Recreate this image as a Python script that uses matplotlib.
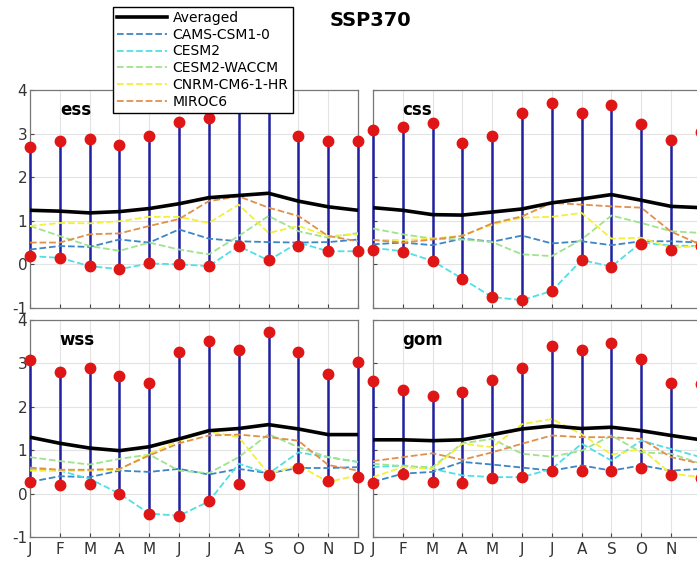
import numpy as np
import matplotlib.pyplot as plt

plt.rcParams['axes.unicode_minus'] = False

months = ['J', 'F', 'M', 'A', 'M', 'J', 'J', 'A', 'S', 'O', 'N', 'D']
regions = ['ess', 'css', 'wss', 'gom']
models = ['CAMS-CSM1-0', 'CESM2', 'CESM2-WACCM', 'CNRM-CM6-1-HR', 'MIROC6']
model_colors = ['#3d86c6', '#4fe0e6', '#9ee38e', '#f2f03a', '#e0904a']

# averaged (ensemble) curve per region
avg_ess = [1.24, 1.22, 1.18, 1.21, 1.28, 1.39, 1.53, 1.58, 1.63, 1.45, 1.32, 1.24]
avg_css = [1.30, 1.24, 1.14, 1.13, 1.20, 1.27, 1.41, 1.50, 1.60, 1.47, 1.33, 1.30]
avg_wss = [1.30, 1.16, 1.05, 0.99, 1.08, 1.26, 1.45, 1.50, 1.59, 1.49, 1.36, 1.36]
avg_gom = [1.24, 1.24, 1.22, 1.24, 1.36, 1.49, 1.56, 1.50, 1.53, 1.45, 1.34, 1.24]

# range (max / min) per region
max_ess = [2.69, 2.84, 2.88, 2.74, 2.95, 3.26, 3.36, 3.85, 3.95, 2.95, 2.84, 2.84]
min_ess = [0.19, 0.15, -0.04, -0.11, 0.02, 0.00, -0.04, 0.42, 0.09, 0.42, 0.30, 0.30]
max_css = [3.09, 3.15, 3.24, 2.78, 2.95, 3.48, 3.70, 3.48, 3.66, 3.22, 2.86, 3.03]
min_css = [0.33, 0.28, 0.08, -0.33, -0.75, -0.82, -0.61, 0.10, -0.05, 0.47, 0.34, 0.42]
max_wss = [3.09, 2.80, 2.90, 2.72, 2.56, 3.26, 3.51, 3.31, 3.72, 3.27, 2.75, 3.03]
min_wss = [0.27, 0.19, 0.21, 0.00, -0.46, -0.51, -0.18, 0.23, 0.44, 0.59, 0.28, 0.38]
max_gom = [2.60, 2.38, 2.24, 2.35, 2.62, 2.90, 3.40, 3.30, 3.46, 3.11, 2.56, 2.52]
min_gom = [0.25, 0.46, 0.27, 0.24, 0.37, 0.38, 0.53, 0.53, 0.52, 0.59, 0.42, 0.37]

# individual models, order as in `models`
ess_models = [
    [0.34, 0.42, 0.40, 0.57, 0.50, 0.80, 0.59, 0.53, 0.51, 0.50, 0.51, 0.57],
    [0.19, 0.15, -0.04, -0.11, 0.02, 0.00, -0.04, 0.42, 0.09, 0.50, 0.30, 0.30],
    [0.88, 0.65, 0.42, 0.31, 0.50, 0.34, 0.23, 0.65, 1.11, 0.76, 0.61, 0.72],
    [0.88, 0.95, 0.94, 0.99, 1.09, 1.09, 0.95, 1.37, 0.72, 0.88, 0.65, 0.69],
    [0.50, 0.50, 0.69, 0.71, 0.88, 1.04, 1.45, 1.56, 1.30, 1.11, 0.65, 0.53],
]
css_models = [
    [0.46, 0.50, 0.44, 0.59, 0.52, 0.66, 0.48, 0.53, 0.44, 0.53, 0.53, 0.50],
    [0.38, 0.30, 0.08, -0.33, -0.75, -0.82, -0.61, 0.10, -0.05, 0.50, 0.43, 0.42],
    [0.82, 0.69, 0.59, 0.57, 0.51, 0.23, 0.19, 0.57, 1.12, 0.95, 0.76, 0.72],
    [0.56, 0.56, 0.59, 0.66, 0.91, 1.07, 1.09, 1.18, 0.59, 0.61, 0.38, 0.42],
    [0.56, 0.50, 0.57, 0.65, 0.94, 1.10, 1.41, 1.37, 1.33, 1.30, 0.75, 0.45],
]
wss_models = [
    [0.27, 0.40, 0.38, 0.53, 0.50, 0.57, 0.44, 0.57, 0.47, 0.59, 0.59, 0.61],
    [0.57, 0.53, 0.34, 0.00, -0.46, -0.51, -0.18, 0.69, 0.46, 0.95, 0.84, 0.73],
    [0.84, 0.75, 0.67, 0.80, 0.90, 0.53, 0.47, 0.84, 1.37, 1.07, 0.84, 0.73],
    [0.53, 0.52, 0.53, 0.55, 0.92, 1.22, 1.43, 1.30, 0.46, 0.65, 0.27, 0.42],
    [0.60, 0.55, 0.55, 0.57, 0.88, 1.16, 1.34, 1.36, 1.30, 1.22, 0.66, 0.53],
]
gom_models = [
    [0.27, 0.46, 0.50, 0.73, 0.67, 0.60, 0.53, 0.65, 0.53, 0.65, 0.53, 0.57],
    [0.61, 0.65, 0.57, 0.42, 0.38, 0.38, 0.57, 1.15, 0.76, 1.22, 1.03, 0.84],
    [0.69, 0.63, 0.61, 1.16, 1.26, 0.92, 0.85, 0.99, 1.34, 0.95, 0.92, 0.69],
    [0.38, 0.61, 0.57, 1.15, 1.07, 1.60, 1.72, 1.37, 0.90, 1.03, 0.46, 0.38],
    [0.75, 0.84, 0.93, 0.78, 0.95, 1.15, 1.34, 1.30, 1.30, 1.26, 0.84, 0.69],
]

avgs = [avg_ess, avg_css, avg_wss, avg_gom]
maxs = [max_ess, max_css, max_wss, max_gom]
mins = [min_ess, min_css, min_wss, min_gom]
all_models = [ess_models, css_models, wss_models, gom_models]

x = np.arange(1, 13)

fig = plt.figure(figsize=(6.97, 5.62), dpi=100)
# axes positions in figure fraction; right column runs past the edge
positions = [
    [0.043, 0.452, 0.4706, 0.388],
    [0.535, 0.452, 0.4706, 0.388],
    [0.043, 0.0445, 0.4706, 0.386],
    [0.535, 0.0445, 0.4706, 0.386],
]

for i, reg in enumerate(regions):
    ax = fig.add_axes(positions[i])
    ax.set_xlim(1, 12)
    ax.set_ylim(-1, 4)
    ax.grid(True, color='#e3e3e3', linewidth=0.8)
    ax.set_axisbelow(True)

    ax.vlines(x, mins[i], maxs[i], color='#2020a0', linewidth=1.8, zorder=3, clip_on=False)
    for m, vals in enumerate(all_models[i]):
        ax.plot(x, vals, '--', color=model_colors[m], linewidth=1.3, zorder=4, label=models[m])
    ax.plot(x, avgs[i], color='black', linewidth=2.6, zorder=5, label='Averaged')
    ax.plot(x, maxs[i], 'o', color='#e01515', markersize=7.5, zorder=6, clip_on=False)
    ax.plot(x, mins[i], 'o', color='#e01515', markersize=7.5, zorder=6, clip_on=False)

    ax.text(2, 3.55, reg, fontsize=12, fontweight='bold', va='center', ha='left')

    ax.set_xticks(x)
    ax.set_yticks(range(-1, 5))
    ax.tick_params(direction='in', length=3, colors='#444444', labelsize=11, labelcolor='#333333')
    if i >= 2:
        ax.set_xticklabels(months)
    else:
        ax.set_xticklabels([])
    if i % 2 == 1:
        ax.set_yticklabels([])
    ax.tick_params(axis='y', pad=2)
    for s in ax.spines.values():
        s.set_color('#777777')
        s.set_linewidth(0.9)

    if i == 0:
        h, l = ax.get_legend_handles_labels()
        order = [5, 0, 1, 2, 3, 4]
        leg_h = [h[k] for k in order]
        leg_l = [l[k] for k in order]

fig.text(0.531, 0.964, 'SSP370', fontsize=14, fontweight='bold', ha='center', va='center')

leg = fig.legend(leg_h, leg_l, loc='upper left', bbox_to_anchor=(0.162, 0.988),
                 borderaxespad=0, fontsize=10, labelspacing=0.2, handlelength=3.6,
                 handletextpad=0.4, borderpad=0.3, fancybox=False, framealpha=1,
                 edgecolor='black')
leg.get_frame().set_linewidth(1.0)
leg.set_zorder(20)

fig.savefig('out.png', dpi=100)
